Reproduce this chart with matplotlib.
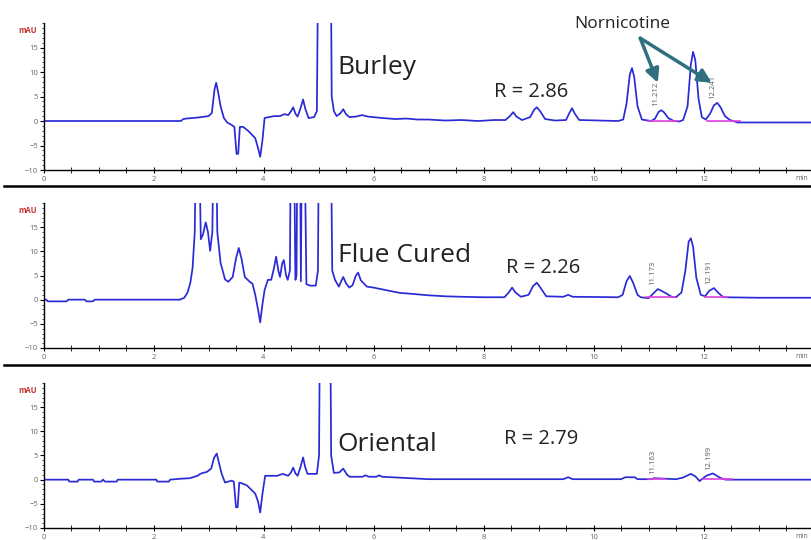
import numpy as np
import matplotlib.pyplot as plt
from matplotlib.lines import Line2D
from matplotlib.ticker import MultipleLocator
from matplotlib.transforms import blended_transform_factory

# HPLC traces of three tobacco types (retention time in min, signal in mAU)
# off-scale peaks are entered as 40 mAU and get clipped at the top of the axis
burley_t = [0, 2.50, 2.54, 2.60, 2.80, 3.00, 3.06, 3.11, 3.14, 3.17, 3.22, 3.28, 3.34, 3.42, 3.47,
            3.51, 3.54, 3.57, 3.63, 3.72, 3.85, 3.90, 3.94, 3.98, 4.02, 4.10, 4.20, 4.30, 4.38,
            4.45, 4.50, 4.54, 4.58, 4.62, 4.67, 4.72, 4.76, 4.82, 4.92, 4.97, 5.00, 5.22, 5.24,
            5.28, 5.33, 5.40, 5.45, 5.50, 5.56, 5.68, 5.79, 5.90, 6.17, 6.40, 6.60, 6.80, 7.00,
            7.30, 7.60, 7.90, 8.20, 8.40, 8.48, 8.54, 8.60, 8.70, 8.85, 8.92, 8.97, 9.03, 9.12,
            9.30, 9.50, 9.56, 9.61, 9.66, 9.74, 10.45, 10.54, 10.60, 10.66, 10.70, 10.74, 10.80,
            10.88, 11.05, 11.12, 11.18, 11.23, 11.28, 11.36, 11.46, 11.56, 11.63, 11.71, 11.77,
            11.81, 11.85, 11.91, 11.97, 12.04, 12.12, 12.19, 12.25, 12.31, 12.39, 12.48, 12.62,
            13.95]
burley_mau = [0, 0, 0.4, 0.5, 0.7, 1.0, 1.6, 6.5, 7.8, 6.2, 3.0, 0.6, -0.3, -0.8, -1.2,
              -6.7, -6.7, -1.2, -1.2, -2.0, -3.5, -5.5, -7.3, -4.0, 0.6, 0.8, 1.0, 1.0, 1.4,
              1.2, 2.0, 2.8, 1.5, 0.9, 2.5, 4.4, 2.5, 0.6, 0.8, 2.0, 40, 40, 5.0,
              2.0, 1.0, 1.6, 2.4, 1.4, 0.8, 0.9, 1.2, 0.9, 0.6, 0.4, 0.5, 0.3, 0.3,
              0.1, 0.2, 0.0, 0.2, 0.2, 1.0, 1.8, 0.9, 0.2, 0.8, 2.3, 2.8, 2.0, 0.4,
              0.1, 0.2, 1.6, 2.6, 1.5, 0.2, 0.0, 0.3, 3.5, 9.5, 10.8, 9.0, 3.0,
              0.3, 0.0, 0.5, 1.8, 2.2, 1.8, 0.6, 0.0, -0.1, 0.2, 3.0, 11.5,
              14.1, 12.5, 4.5, 0.8, 0.3, 1.5, 3.2, 3.7, 2.8, 1.0, 0.2, -0.3,
              -0.3]

flue_t = [0, 0.05, 0.08, 0.42, 0.45, 0.75, 0.78, 0.90, 0.93, 2.48, 2.56, 2.62, 2.67, 2.71, 2.75,
          2.78, 2.82, 2.86, 2.90, 2.95, 2.99, 3.03, 3.07, 3.10, 3.13, 3.16, 3.22, 3.30, 3.36,
          3.44, 3.50, 3.55, 3.60, 3.66, 3.75, 3.80, 3.85, 3.90, 3.94, 3.98, 4.02, 4.08, 4.14,
          4.19, 4.23, 4.27, 4.30, 4.34, 4.37, 4.41, 4.44, 4.48, 4.50, 4.55, 4.58, 4.60, 4.62,
          4.66, 4.68, 4.70, 4.74, 4.78, 4.85, 4.95, 4.99, 5.01, 5.22, 5.25, 5.30, 5.37, 5.42,
          5.45, 5.50, 5.56, 5.62, 5.68, 5.72, 5.77, 5.88, 6.00, 6.17, 6.30, 6.48, 6.70, 7.00,
          7.30, 7.60, 8.00, 8.38, 8.46, 8.52, 8.58, 8.68, 8.82, 8.90, 8.97, 9.04, 9.14, 9.45,
          9.54, 9.62, 10.45, 10.53, 10.60, 10.66, 10.72, 10.80, 10.86, 11.00, 11.08, 11.17,
          11.24, 11.32, 11.42, 11.50, 11.60, 11.67, 11.73, 11.77, 11.81, 11.87, 11.95, 12.03,
          12.10, 12.19, 12.27, 12.36, 13.00, 13.95]
flue_mau = [0, 0, -0.35, -0.35, 0, 0, -0.35, -0.35, 0, 0, 0.4, 1.5, 3.5, 6.5, 14,
            40, 40, 12.5, 13.5, 16, 14, 10.1, 14, 40, 40, 14, 7.6, 4.2, 3.7,
            4.7, 8.5, 10.7, 8.5, 4.7, 3.7, 3.3, 1.0, -2.0, -4.7, -1.0, 2.0, 4.1, 4.1,
            6.5, 8.9, 6.0, 4.7, 7.5, 8.2, 5.0, 4.1, 6.0, 40, 40, 4.1, 5.0, 40,
            40, 3.8, 40, 40, 3.2, 2.9, 2.9, 6.0, 40, 40, 6.0, 4.1, 2.7, 4.0,
            4.7, 3.4, 2.5, 3.0, 5.0, 5.6, 4.0, 2.7, 2.5, 2.1, 1.8, 1.4, 1.2, 0.9,
            0.7, 0.6, 0.5, 0.5, 1.5, 2.5, 1.5, 0.6, 1.0, 2.8, 3.5, 2.4, 0.7, 0.6,
            1.0, 0.6, 0.5, 1.0, 3.8, 4.9, 3.5, 1.0, 0.5, 0.3, 1.2, 2.2,
            1.8, 1.3, 0.6, 0.5, 1.5, 6.0, 12.0, 12.7, 11.0, 4.5, 1.0, 0.7,
            1.8, 2.4, 1.4, 0.5, 0.4, 0.4]

oriental_t = [0, 0.45, 0.47, 0.62, 0.64, 0.90, 0.92, 1.05, 1.08, 1.12, 1.33, 1.35, 2.05, 2.07, 2.28,
              2.30, 2.50, 2.66, 2.80, 2.85, 2.90, 2.97, 3.05, 3.10, 3.15, 3.19, 3.24, 3.30, 3.42,
              3.46, 3.50, 3.53, 3.56, 3.62, 3.70, 3.85, 3.90, 3.94, 3.98, 4.03, 4.25, 4.35, 4.45,
              4.50, 4.54, 4.58, 4.62, 4.67, 4.72, 4.76, 4.80, 4.97, 5.01, 5.03, 5.21, 5.23, 5.28,
              5.38, 5.45, 5.52, 5.57, 5.80, 5.85, 5.92, 6.05, 6.10, 6.16, 6.50, 7.00, 9.45, 9.54,
              9.62, 10.50, 10.58, 10.75, 10.80, 11.05, 11.10, 11.30, 11.50, 11.62, 11.77, 11.85,
              11.93, 11.98, 12.05, 12.17, 12.30, 12.40, 13.95]
oriental_mau = [0, 0, -0.4, -0.4, 0, 0, -0.4, -0.4, 0, -0.4, -0.4, 0, 0, -0.4, -0.4,
                0, 0.2, 0.3, 0.8, 1.2, 1.4, 1.6, 2.3, 4.5, 5.4, 3.5, 1.2, -0.6, -0.2,
                -0.4, -5.7, -5.7, -0.6, -0.8, -1.2, -2.9, -4.5, -6.8, -3.0, 0.8, 0.8, 1.2, 0.8,
                1.5, 2.5, 1.3, 0.8, 2.5, 4.6, 2.5, 1.2, 1.2, 5.0, 40, 40, 5.0, 1.4,
                1.5, 2.3, 1.0, 0.6, 0.6, 0.9, 0.6, 0.6, 0.9, 0.6, 0.4, 0.1, 0.1, 0.5,
                0.1, 0.1, 0.5, 0.5, 0.1, 0.1, 0.3, 0.2, 0.1, 0.4, 1.2, 0.7,
                -0.3, 0.2, 0.8, 1.3, 0.4, 0.0, 0.0]

names = ['Burley', 'Flue Cured', 'Oriental']
ratios = ['R = 2.86', 'R = 2.26', 'R = 2.79']

# nornicotine peaks: label, retention time, apex height
peak_labels = [['11.212', '12.241'], ['11.173', '12.191'], ['11.163', '12.199']]
peak_rt = [[11.23, 12.25], [11.17, 12.19], [11.16, 12.19]]
peak_top = [[2.2, 3.7], [2.2, 2.4], [0.3, 1.3]]

# integration baselines (start, end)
base_start = [[10.99, 12.06], [10.95, 12.03], [10.99, 11.99]]
base_end = [[11.54, 12.66], [11.48, 12.43], [11.30, 12.52]]
base_level = [[0.0, -0.1], [0.5, 0.5], [0.1, 0.1]]

traces = [(burley_t, burley_mau), (flue_t, flue_mau), (oriental_t, oriental_mau)]

W, H = 811, 540
fig = plt.figure(figsize=(W / 100, H / 100), dpi=100)
plt.rcParams['font.family'] = ['Open Sans', 'DejaVu Sans']

x0 = 43.5
px_per_min = 55.0
panels = [(23, 170), (203, 348), (383, 528)]

# text positions per panel (min, mAU)
name_pos = [(5.35, 9.6), (5.35, 7.8), (5.35, 6.0)]
ratio_pos = [(8.19, 4.9), (8.41, 5.6), (8.37, 7.4)]

blue = '#2a2ad6'
magenta = '#e040e0'
gray = '#666666'

axes = []
for i, (top, bottom) in enumerate(panels):
    ax = fig.add_axes([x0 / W, 1 - bottom / H, (W - x0) / W, (bottom - top) / H])
    axes.append(ax)
    t, s = traces[i]
    ax.plot(t, s, color=blue, lw=1.25)

    for j in range(2):
        ax.plot([base_start[i][j], base_end[i][j]], [base_level[i][j]] * 2,
                color=magenta, lw=1.2, zorder=3)
        ax.text(peak_rt[i][j] - 0.09, peak_top[i][j] + 0.8, peak_labels[i][j],
                rotation=90, ha='center', va='bottom', fontsize=5.5, color='#555555')

    ax.text(*name_pos[i], names[i], fontsize=19, color='#222222', va='baseline')
    ax.text(*ratio_pos[i], ratios[i], fontsize=14.5, color='#222222', va='baseline')

    ax.set_xlim(0, (W - x0) / px_per_min)
    ax.set_ylim(-10, 20)
    ax.set_facecolor('none')
    for side in ['top', 'right']:
        ax.spines[side].set_visible(False)
    for side in ['left', 'bottom']:
        ax.spines[side].set_color('black')
        ax.spines[side].set_linewidth(1.0)

    ax.set_yticks([-10, -5, 0, 5, 10, 15])
    ax.yaxis.set_minor_locator(MultipleLocator(1))
    ax.xaxis.set_major_locator(MultipleLocator(2))
    ax.xaxis.set_minor_locator(MultipleLocator(0.5))
    ax.tick_params(axis='y', which='major', direction='out', length=3, width=0.8,
                   labelsize=5.5, labelcolor=gray, pad=1)
    ax.tick_params(axis='y', which='minor', direction='out', length=1.5, width=0.5)
    ax.tick_params(axis='x', which='major', direction='inout', length=5, width=0.8,
                   labelsize=5.5, labelcolor=gray, pad=2)
    ax.tick_params(axis='x', which='minor', direction='inout', length=4, width=0.6)

    trans = blended_transform_factory(ax.transAxes, ax.transData)
    ax.text(-0.008, 18.4, 'mAU', transform=trans, ha='right', va='center',
            fontsize=5.5, color='#c03030', fontweight='bold')

    fig.text(808 / W, 1 - (bottom + 8) / H, 'min', fontsize=5, color=gray,
             ha='right', va='center')

# separators between the stacked traces
for y in [186, 365]:
    fig.add_artist(Line2D([4 / W, 1], [1 - y / H] * 2, color='black', lw=1.8))

fig.text(574 / W, 1 - 28 / H, 'Nornicotine', fontsize=12.5, color='#222222', va='baseline')
arrow_color = '#2f6f7f'
for end_t in [11.17, 12.15]:
    axes[0].annotate('', xy=(end_t, 7.8), xytext=(10.85, 16.9),
                     arrowprops=dict(arrowstyle='-|>', color=arrow_color, lw=2.5,
                                     mutation_scale=20, shrinkA=0, shrinkB=0),
                     annotation_clip=False)

fig.savefig('out.png', dpi=100)
